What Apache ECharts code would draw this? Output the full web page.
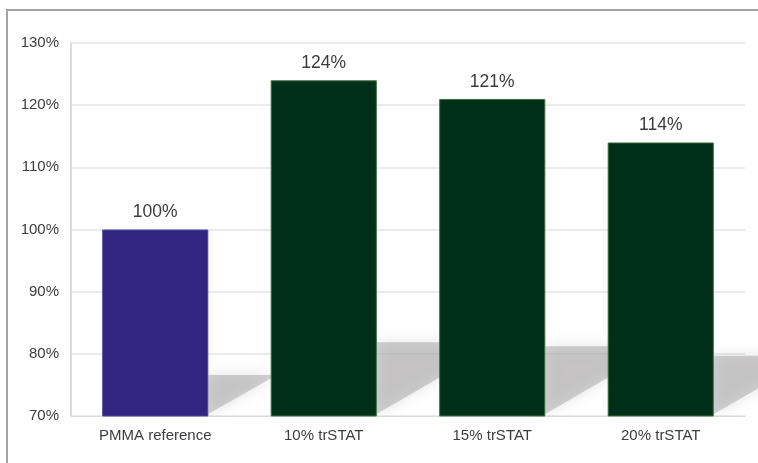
<!DOCTYPE html>
<html>
<head>
<meta charset="utf-8">
<script src="https://cdn.jsdelivr.net/npm/echarts@6/dist/echarts.min.js"></script>
<style>
  html, body { margin: 0; padding: 0; background: #fff; overflow: hidden; }
  #chart { position: absolute; left: 0; top: 0; width: 758px; height: 463px; }
</style>
</head>
<body>
<div id="chart"></div>
<script>
// Relative performance, PMMA reference = 100%
const categories = ['PMMA reference', '10% trSTAT', '15% trSTAT', '20% trSTAT'];
const values = [100, 124, 121, 114];
const barColors = ['#312580', '#00301a', '#00301a', '#00301a'];
const barBorders = ['#4a44a0', '#3f6f3f', '#3f6f3f', '#3f6f3f'];
const yTicks = { min: 70, max: 130, interval: 10 };

const BAR_FRACTION = 0.63;
const textColor = '#3c3c3c';
const fontFamily = 'Liberation Sans, Arial, sans-serif';
const frameColor = '#a4a4a4';

const chart = echarts.init(document.getElementById('chart'), null, { renderer: 'canvas' });

// Soft floor shadow cast to the right of each bar
function renderShadow(params, api) {
  const cat = api.value(0);
  const val = api.value(1);
  const top = api.coord([cat, val]);
  const base = api.coord([cat, yTicks.min]);
  const band = api.size([1, 0])[0];
  const xR = base[0] + band * BAR_FRACTION / 2;
  const y0 = base[1];
  const h = (y0 - top[1]) * 0.22;
  const yS = y0 - h;
  const run = h / 0.6;
  return {
    type: 'polygon',
    shape: { points: [[xR, y0 - 2], [xR, yS], [xR + run, yS]] },
    style: {
      fill: 'rgba(165,163,163,0.5)',
      shadowBlur: 14,
      shadowColor: 'rgba(165,163,163,0.6)'
    }
  };
}

chart.setOption({
  animation: false,
  // Panel frame: top and left rules only
  graphic: [
    { type: 'line', silent: true, shape: { x1: 6, y1: 10, x2: 2000, y2: 10 },
      style: { stroke: frameColor, lineWidth: 2 } },
    { type: 'line', silent: true, shape: { x1: 7, y1: 9, x2: 7, y2: 2000 },
      style: { stroke: frameColor, lineWidth: 2 } }
  ],
  grid: { left: 71, right: 13, top: 43, bottom: 47, containLabel: false },
  xAxis: {
    type: 'category',
    data: categories,
    axisLine: { show: true, lineStyle: { color: '#dcdcdc', width: 1 } },
    axisTick: { show: false },
    axisLabel: { color: textColor, fontSize: 15, fontFamily: fontFamily, margin: 12 }
  },
  yAxis: {
    type: 'value',
    min: yTicks.min,
    max: yTicks.max,
    interval: yTicks.interval,
    axisLine: { show: true, lineStyle: { color: '#cfcfcf', width: 1.5 } },
    axisTick: { show: false },
    splitLine: { show: true, lineStyle: { color: '#e4e4e4', width: 1.5 } },
    axisLabel: {
      color: textColor, fontSize: 15, fontFamily: fontFamily, margin: 12,
      formatter: v => v + '%'
    }
  },
  series: [
    {
      type: 'custom',
      z: 1,
      clip: false,
      silent: true,
      renderItem: renderShadow,
      data: values.map((v, i) => [i, v])
    },
    {
      type: 'bar',
      z: 3,
      barWidth: (BAR_FRACTION * 100) + '%',
      data: values.map((v, i) => ({
        value: v,
        itemStyle: { color: barColors[i], borderColor: barBorders[i], borderWidth: 1 }
      })),
      label: {
        show: true,
        position: 'top',
        distance: 8,
        color: textColor,
        fontSize: 17.5,
        fontFamily: fontFamily,
        formatter: p => p.value + '%'
      }
    }
  ]
});
</script>
</body>
</html>
